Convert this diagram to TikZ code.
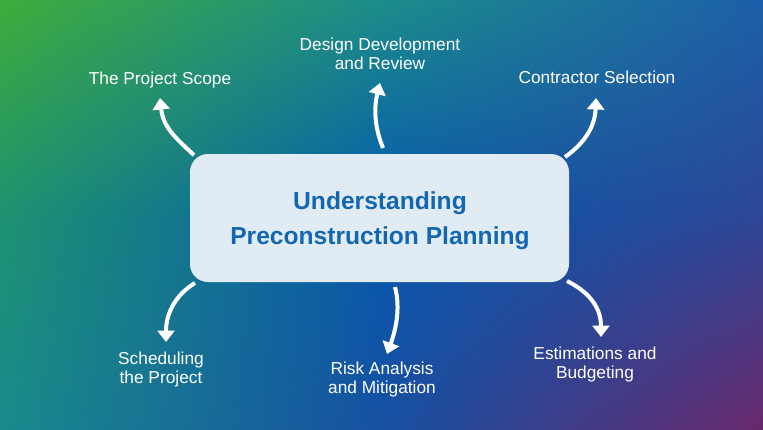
\documentclass[tikz,border=0pt]{standalone}
\usepackage{fontspec}
\setmainfont{Liberation Sans}
\usetikzlibrary{arrows.meta,shadings}
\definecolor{cTL}{RGB}{62,172,58}
\definecolor{cTM}{RGB}{28,140,138}
\definecolor{cTR}{RGB}{28,95,170}
\definecolor{cML}{RGB}{30,146,112}
\definecolor{cMM}{RGB}{6,88,174}
\definecolor{cMR}{RGB}{45,70,150}
\definecolor{cBL}{RGB}{25,138,140}
\definecolor{cBM}{RGB}{22,80,162}
\definecolor{cBR}{RGB}{105,40,108}
\definecolor{boxfill}{RGB}{225,235,243}
\definecolor{titleblue}{RGB}{18,103,176}
\begin{document}
\begin{tikzpicture}[x=1pt,y=-1pt,
  lbl/.style={text=white, font=\fontsize{17.3}{19}\selectfont, align=center, inner sep=0pt},
  arr/.style={draw=white, line width=4pt, -{Triangle[width=17pt,length=11.5pt]}},
  centerbox/.style={fill=boxfill, rounded corners=18pt, minimum width=379pt, minimum height=128pt},
  titletext/.style={text=titleblue, font=\fontsize{24.6}{35}\selectfont\bfseries, align=center, inner sep=0pt}]
\useasboundingbox (0,0) rectangle (763,429);
% background
\shade[upper left=cTL, upper right=cTM, lower left=cML, lower right=cMM] (0,0) rectangle (382.5,215.5);
\shade[upper left=cTM, upper right=cTR, lower left=cMM, lower right=cMR] (381.5,0) rectangle (763,215.5);
\shade[upper left=cML, upper right=cMM, lower left=cBL, lower right=cBM] (0,214.5) rectangle (382.5,429);
\shade[upper left=cMM, upper right=cMR, lower left=cBM, lower right=cBR] (381.5,214.5) rectangle (763,429);
% central box
\node[centerbox] (c) at (379.5,218) {};
\node[titletext] (t) at (380,221) {Understanding\\Preconstruction Planning};
% labels
\node[lbl] (n1) at (160,80) {The Project Scope};
\node[lbl] (n2) at (380,54) {Design Development\\and Review};
\node[lbl] (n3) at (597,77.5) {Contractor Selection};
\node[lbl] (n4) at (161,370) {Scheduling\\the Project};
\node[lbl] (n5) at (382,379.5) {Risk Analysis\\and Mitigation};
\node[lbl] (n6) at (595,365) {Estimations and\\Budgeting};
% arrow ends
\coordinate (s1) at (194,155); \coordinate (e1) at (160,98);
\coordinate (s2) at (383,148); \coordinate (e2) at (380,83);
\coordinate (s3) at (565,157); \coordinate (e3) at (596,98);
\coordinate (s4) at (195,283); \coordinate (e4) at (166,342);
\coordinate (s5) at (395,287); \coordinate (e5) at (387,354);
\coordinate (s6) at (567,281); \coordinate (e6) at (601,337);
\draw[arr] (s1) .. controls +(-20,-18) and +(3,28) .. (e1);
\draw[arr] (s2) .. controls +(-9,-22) and +(-6,24) .. (e2);
\draw[arr] (s3) .. controls +(20,-14) and +(-1,28) .. (e3);
\draw[arr] (s4) .. controls +(-20,12) and +(0,-28) .. (e4);
\draw[arr] (s5) .. controls +(6,22) and +(8,-22) .. (e5);
\draw[arr] (s6) .. controls +(24,12) and +(0,-28) .. (e6);
\end{tikzpicture}
\end{document}
